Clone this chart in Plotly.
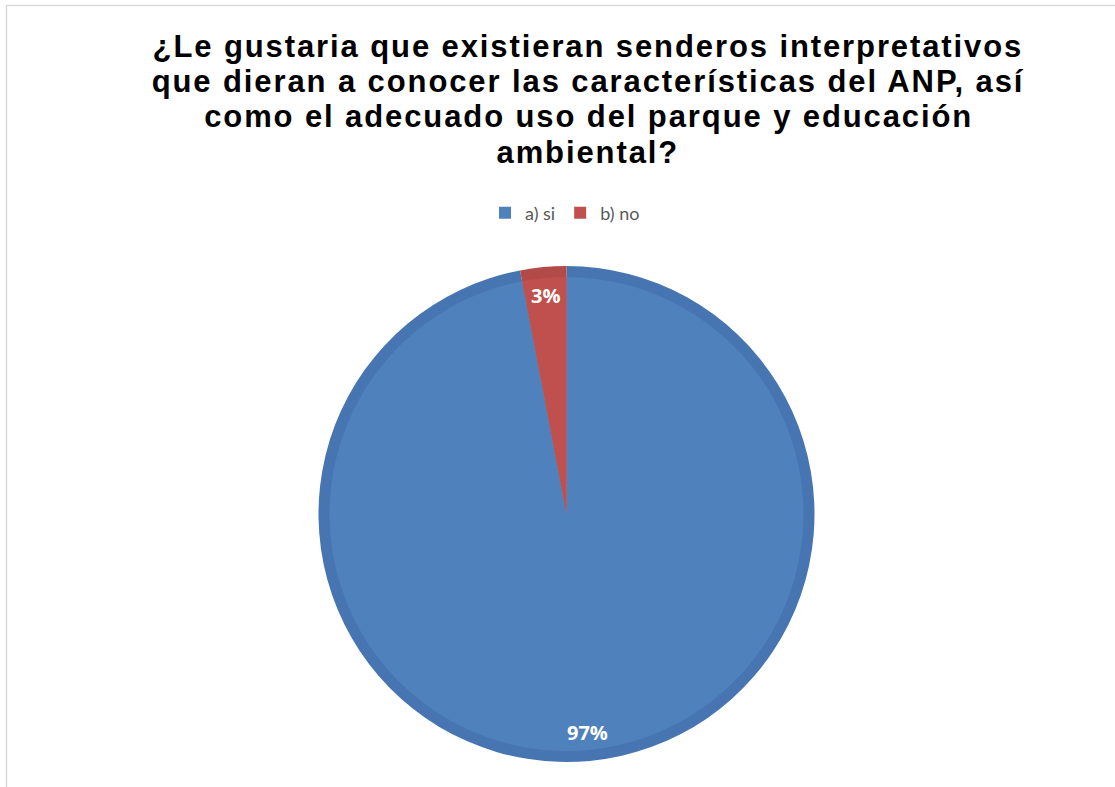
import math
import plotly.graph_objects as go

# ---- data ----
categories = ["a) si", "b) no"]
values = [97, 3]
labels_pct = ["97%", "3%"]
title_lines = [
    "¿Le gustaria que existieran senderos interpretativos",
    "que dieran a conocer las características del ANP, así",
    "como el adecuado uso del parque y educación",
    "ambiental?",
]

# ---- style ----
W, H = 1115, 787
fill_colors = ["#4F81BD", "#C0504D"]
edge_colors = ["#4775B1", "#B24A47"]
cx_px, cy_px = 566.5, 514.0
R_vis = 248.0
ring = 11.0


def dom(r):
    return dict(
        x=[(cx_px - r) / W, (cx_px + r) / W],
        y=[1 - (cy_px + r) / H, 1 - (cy_px - r) / H],
    )


fig = go.Figure()
# outer (darker) pie = bevel ring
fig.add_trace(go.Pie(
    labels=categories, values=values, sort=False,
    direction="clockwise", rotation=0,
    marker=dict(colors=edge_colors, line=dict(width=0)),
    textinfo="none", hoverinfo="skip", showlegend=False,
    domain=dom(R_vis),
))
# inner (lighter) pie
fig.add_trace(go.Pie(
    labels=categories, values=values, sort=False,
    direction="clockwise", rotation=0,
    marker=dict(colors=fill_colors, line=dict(width=0)),
    textinfo="none", hoverinfo="label+percent", showlegend=True,
    domain=dom(R_vis - ring),
))

annotations = []
# title lines
title_baselines = [56, 91.5, 127, 162.5]
for line, base in zip(title_lines, title_baselines):
    annotations.append(dict(
        x=588 / W, y=1 - (base - 10) / H, xref="paper", yref="paper",
        text=line, showarrow=False, xanchor="center", yanchor="middle",
        font=dict(family="Liberation Sans", size=31, color="black", weight="bold"),
    ))

# percent labels placed at slice mid-angles (derived from data)
total = sum(values)
cum = 0.0
r_lab = 0.883 * R_vis
for v, t in zip(values, labels_pct):
    mid = (cum + v / 2) / total * 2 * math.pi
    cum += v
    x_px = cx_px + r_lab * math.sin(mid)
    y_px = cy_px - r_lab * math.cos(mid)
    annotations.append(dict(
        x=x_px / W, y=1 - y_px / H, xref="paper", yref="paper",
        text=t, showarrow=False,
        font=dict(family="Open Sans", size=20, color="white", weight="bold"),
        xanchor="center", yanchor="middle",
    ))

fig.update_layout(
    width=W, height=H,
    margin=dict(l=0, r=0, t=0, b=0),
    paper_bgcolor="white",
    plot_bgcolor="white",
    legend=dict(
        orientation="h",
        x=565 / W, xanchor="center",
        y=1 - 213 / H, yanchor="middle",
        font=dict(family="Lato", size=18, color="#595959"),
        itemclick=False, itemwidth=30,
    ),
    annotations=annotations,
    shapes=[dict(
        type="rect", xref="paper", yref="paper",
        x0=6.5 / W, x1=1.02, y0=-0.02, y1=1 - 5.5 / H,
        line=dict(color="#D9D9D9", width=1.5), fillcolor="rgba(0,0,0,0)",
        layer="below",
    )],
)

post = (
    "document.body.style.margin='0';"
    "for (var i=0;i<4;i++){"
    "var t=document.querySelector('.annotation[data-index=\"'+i+'\"] text.annotation-text');"
    "if(t){t.style.letterSpacing='1.9px';}}"
)

fig.write_html("out.html", post_script=post, config={"displayModeBar": False})
